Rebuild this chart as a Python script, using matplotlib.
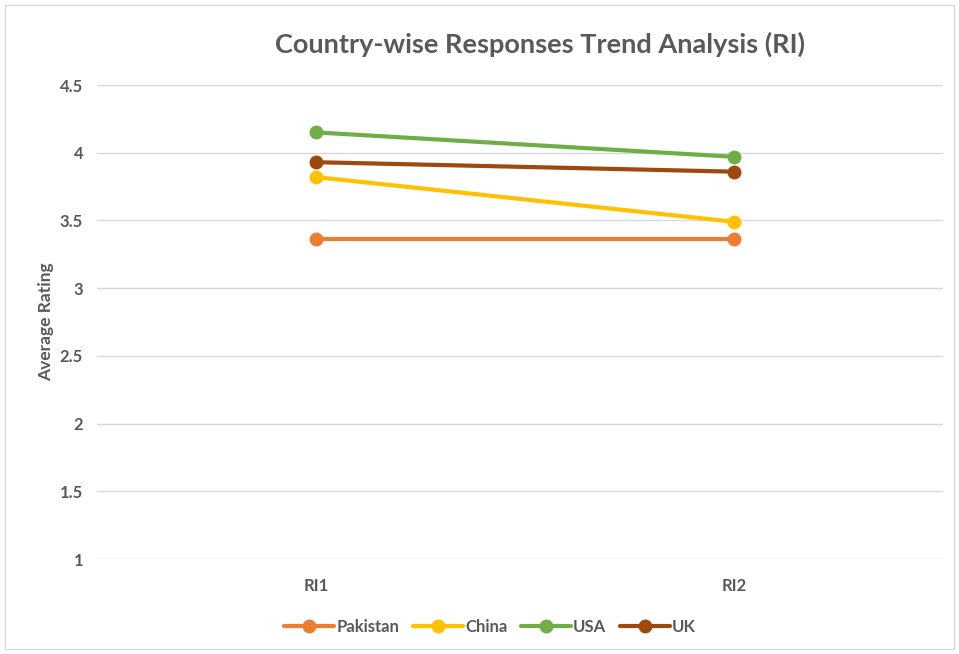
import matplotlib.pyplot as plt
from matplotlib.patches import Rectangle

categories = ["RI1", "RI2"]
countries = ["Pakistan", "China", "USA", "UK"]
pakistan = [3.36, 3.36]
china = [3.82, 3.49]
usa = [4.15, 3.97]
uk = [3.93, 3.86]
colors = ["#ED7D31", "#FFC000", "#70AD47", "#9E480E"]
y_ticks = [1, 1.5, 2, 2.5, 3, 3.5, 4, 4.5]
y_labels = ["1", "1.5", "2", "2.5", "3", "3.5", "4", "4.5"]

plt.rcParams["font.family"] = ["Lato", "DejaVu Sans"]
grey = "#595959"

fig = plt.figure(figsize=(9.59, 6.54), dpi=100)
ax = fig.add_axes([97 / 959, 1 - 559 / 654, 846 / 959, 474 / 654])

x = list(range(len(categories)))
for name, vals, c in zip(countries, [pakistan, china, usa, uk], colors):
    ax.plot(x, vals, color=c, linewidth=3, marker="o", markersize=9,
            label=name, solid_capstyle="round")

ax.set_xlim(-0.524, 1.5)
ax.set_ylim(1, 4.5)
ax.set_xticks(x)
ax.set_xticklabels(categories)
ax.set_yticks(y_ticks)
ax.set_yticklabels(y_labels)
ax.grid(axis="y", color="#D9D9D9", linewidth=1)
ax.set_axisbelow(True)
for s in ax.spines.values():
    s.set_visible(False)
ax.tick_params(length=0, colors=grey, labelsize=12)
for lbl in ax.get_xticklabels() + ax.get_yticklabels():
    lbl.set_fontweight("bold")
ax.tick_params(axis="x", pad=14)
ax.tick_params(axis="y", pad=10)
ax.set_ylabel("Average Rating", color=grey, fontsize=12.5, fontweight="bold", labelpad=4)

fig.text(540 / 959, 1 - 44 / 654, "Country-wise Responses Trend Analysis (RI)",
         ha="center", va="center", fontsize=19.5, fontweight="bold", color=grey)

leg = ax.legend(loc="center", bbox_to_anchor=((490 - 97) / 846, 1 - (627 - 85) / 474),
                ncol=4, frameon=False, fontsize=12, handlelength=3.0,
                columnspacing=0.8, handletextpad=0.15)
for t in leg.get_texts():
    t.set_color(grey)
    t.set_fontweight("bold")

fig.patches.append(Rectangle((5 / 959, 5 / 654), 949 / 959, 644 / 654,
                             transform=fig.transFigure, fill=False,
                             edgecolor="#D9D9D9", linewidth=1))

fig.savefig("out.png", dpi=100)
